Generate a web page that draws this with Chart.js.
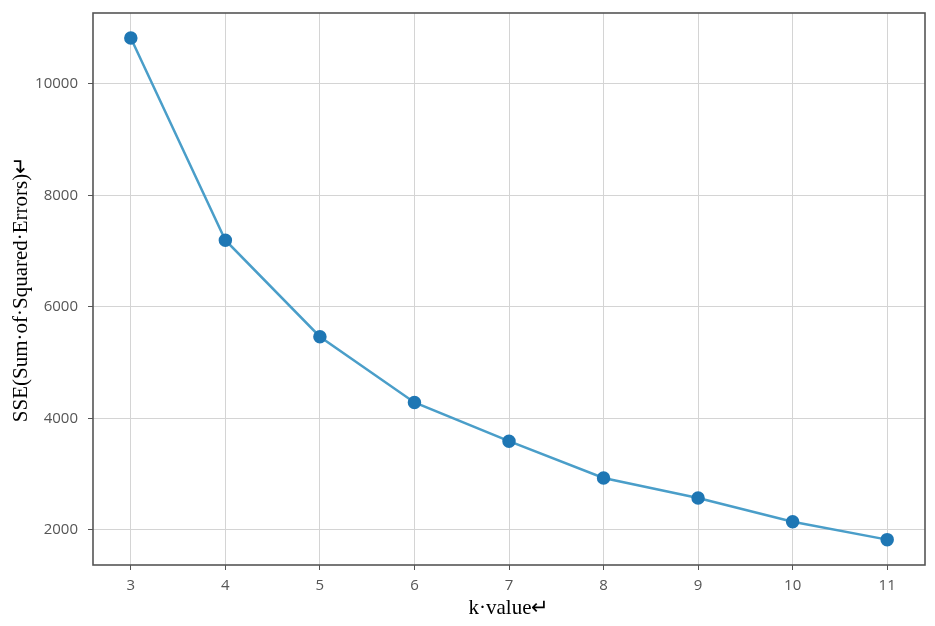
<!DOCTYPE html>
<html>
<head>
<meta charset="utf-8">
<script src="https://cdn.jsdelivr.net/npm/chart.js@4"></script>
<style>
  html, body { margin: 0; padding: 0; background: #fff; }
  #wrap { width: 935px; height: 626px; }
</style>
</head>
<body>
<div id="wrap"><canvas id="myChart"></canvas></div>
<script>
let ctx = document.getElementById('myChart')

// data
let kValues = [3, 4, 5, 6, 7, 8, 9, 10, 11]
let sseValues = [10820, 7195, 5465, 4285, 3590, 2930, 2570, 2145, 1825]
let xTicks = [3, 4, 5, 6, 7, 8, 9, 10, 11]
let yTicks = [2000, 4000, 6000, 8000, 10000]
let xTitle = 'k·value↵'
let yTitle = 'SSE(Sum·of·Squared·Errors)↵'

// box round the plot, like matplotlib
let frame = {
    id: 'frame',
    afterDraw(chart) {
        let a = chart.chartArea
        let c = chart.ctx
        c.save()
        c.strokeStyle = '#555'
        c.lineWidth = 1.6
        c.strokeRect(a.left, a.top, a.right - a.left, a.bottom - a.top)
        c.restore()
    }
}

let tickFont = { family: 'Open Sans', size: 15 }
let titleFont = { family: 'Liberation Serif', size: 21 }

new Chart(ctx, {
    type: 'line',
    data: {
        datasets: [{
            data: kValues.map((k, i) => ({ x: k, y: sseValues[i] })),
            borderColor: '#4a9ec9',
            borderWidth: 2.5,
            backgroundColor: '#1f77b4',
            pointBackgroundColor: '#1f77b4',
            pointBorderColor: '#1f77b4',
            pointRadius: 5.5,
            tension: 0
        }]
    },
    options: {
        responsive: true,
        maintainAspectRatio: false,
        animation: false,
        layout: { padding: { top: 13, right: 10, left: 0, bottom: 0 } },
        plugins: {
            legend: { display: false },
            tooltip: { enabled: false }
        },
        scales: {
            x: {
                type: 'linear',
                min: 2.6,
                max: 11.4,
                afterBuildTicks: s => { s.ticks = xTicks.map(v => ({ value: v })) },
                afterFit: s => { s.height = 61; s.paddingLeft = 0; s.paddingRight = 0 },
                grid: { color: '#d4d4d4', lineWidth: 1, tickLength: 5, tickColor: '#555' },
                border: { display: false },
                ticks: { color: '#555', font: tickFont, padding: 7, maxRotation: 0, callback: v => String(v) },
                title: { display: true, text: xTitle, color: '#000', font: titleFont, padding: { top: 0, bottom: 5 } }
            },
            y: {
                type: 'linear',
                min: 1370,
                max: 11270,
                afterBuildTicks: s => { s.ticks = yTicks.map(v => ({ value: v })) },
                afterFit: s => { s.width = 93; s.paddingTop = 0; s.paddingBottom = 0 },
                grid: { color: '#d4d4d4', lineWidth: 1, tickLength: 5, tickColor: '#555' },
                border: { display: false },
                ticks: { color: '#555', font: tickFont, padding: 10, callback: v => String(v) },
                title: { display: true, text: yTitle, color: '#000', font: titleFont, padding: { top: 9, bottom: 0 } }
            }
        }
    },
    plugins: [frame]
});
</script>
</body>
</html>
